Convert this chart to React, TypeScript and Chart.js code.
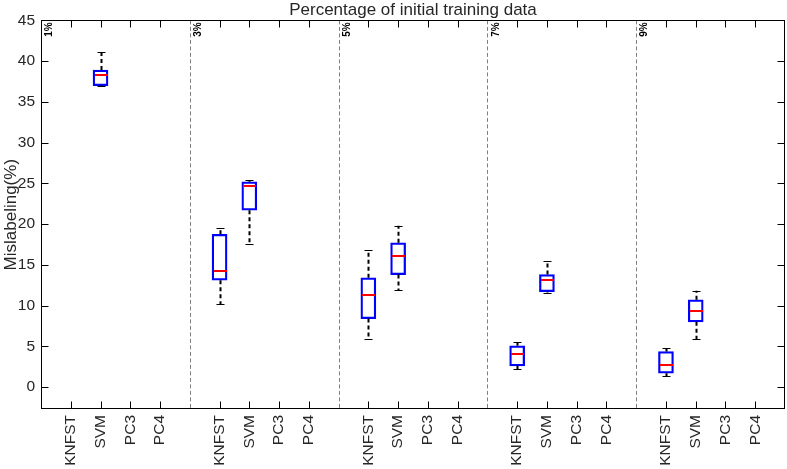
import React, { useEffect, useRef } from 'react';
import { Chart, registerables } from 'chart.js';
Chart.register(...registerables);

const groups = ['1%', '3%', '5%', '7%', '9%'];
const methods = ['KNFST', 'SVM', 'PC3', 'PC4'];
const yTicks = [0, 5, 10, 15, 20, 25, 30, 35, 40, 45];

// KNFST box statistics per group (null = no data)
const knfstMin = [null, 10.2, 5.9, 2.2, 1.3];
const knfstQ1 = [null, 13.1, 8.4, 2.6, 1.7];
const knfstMed = [null, 14.2, 11.3, 4.05, 2.75];
const knfstQ3 = [null, 18.75, 13.4, 5.05, 4.35];
const knfstMax = [null, 19.5, 16.8, 5.5, 4.8];

// SVM box statistics per group
const svmMin = [36.9, 17.6, 11.9, 11.6, 5.9];
const svmQ1 = [37.0, 21.7, 13.8, 11.7, 8.0];
const svmMed = [38.3, 24.7, 16.1, 13.1, 9.3];
const svmQ3 = [38.9, 25.2, 17.7, 13.8, 10.7];
const svmMax = [41.1, 25.4, 19.8, 15.5, 11.8];

const FONT = "'Liberation Sans', Arial, Helvetica, sans-serif";
const TEXT = '#262626';

type Stat = { x: number; min: number; q1: number; med: number; q3: number; max: number };

function buildStats(mi: number, mn: (number | null)[], q1: (number | null)[], md: (number | null)[], q3: (number | null)[], mx: (number | null)[]): Stat[] {
  const out: Stat[] = [];
  groups.forEach((_, gi) => {
    if (q1[gi] == null) return;
    out.push({ x: gi * 5 + mi + 1, min: mn[gi] as number, q1: q1[gi] as number, med: md[gi] as number, q3: q3[gi] as number, max: mx[gi] as number });
  });
  return out;
}

export default function App() {
  const ref = useRef<HTMLCanvasElement>(null);
  useEffect(() => {
    document.body.style.margin = '0';
    const canvas = ref.current;
    if (!canvas) return;

    const knfst = buildStats(0, knfstMin, knfstQ1, knfstMed, knfstQ3, knfstMax);
    const svm = buildStats(1, svmMin, svmQ1, svmMed, svmQ3, svmMax);
    const allStats = [...knfst, ...svm];

    const xPositions: number[] = [];
    const xLabelMap: Record<number, string> = {};
    groups.forEach((_, gi) => {
      methods.forEach((m, mi) => {
        const p = gi * 5 + mi + 1;
        xPositions.push(p);
        xLabelMap[p] = m;
      });
    });
    const separators = groups.map((_, gi) => gi * 5);

    const BOX_W = 15;

    const decor = {
      id: 'boxDecor',
      beforeDatasetsDraw(chart: any) {
        const { ctx, chartArea: a, scales } = chart;
        const xs = scales.x;
        ctx.save();
        ctx.strokeStyle = '#808080';
        ctx.lineWidth = 1;
        ctx.setLineDash([4, 2.5]);
        separators.forEach((s) => {
          if (s === 0) return;
          const px = Math.round(xs.getPixelForValue(s)) + 0.5;
          ctx.beginPath();
          ctx.moveTo(px, a.top);
          ctx.lineTo(px, a.bottom);
          ctx.stroke();
        });
        ctx.setLineDash([]);
        ctx.fillStyle = '#000';
        ctx.font = `bold 10px ${FONT}`;
        ctx.textAlign = 'right';
        ctx.textBaseline = 'middle';
        separators.forEach((s, gi) => {
          const px = xs.getPixelForValue(s) + 8.5;
          ctx.save();
          ctx.translate(px, a.top + 2);
          ctx.rotate(-Math.PI / 2);
          ctx.fillText(groups[gi], 0, 0);
          ctx.restore();
        });
        ctx.restore();
      },
      afterDatasetsDraw(chart: any) {
        const { ctx, chartArea: a, scales } = chart;
        const xs = scales.x;
        const ys = scales.y;
        ctx.save();
        allStats.forEach((s) => {
          const cx = Math.round(xs.getPixelForValue(s.x)) + 0.5;
          const yMin = ys.getPixelForValue(s.min);
          const yQ1 = ys.getPixelForValue(s.q1);
          const yMed = ys.getPixelForValue(s.med);
          const yQ3 = ys.getPixelForValue(s.q3);
          const yMax = ys.getPixelForValue(s.max);
          ctx.strokeStyle = '#000';
          ctx.lineWidth = 2;
          ctx.setLineDash([4, 3]);
          ctx.beginPath();
          ctx.moveTo(cx, yQ3);
          ctx.lineTo(cx, yMax);
          ctx.moveTo(cx, yQ1);
          ctx.lineTo(cx, yMin);
          ctx.stroke();
          ctx.setLineDash([]);
          ctx.lineWidth = 1;
          ctx.strokeStyle = '#000';
          ctx.beginPath();
          ctx.moveTo(cx - 4, Math.round(yMax) + 0.5);
          ctx.lineTo(cx + 4, Math.round(yMax) + 0.5);
          ctx.moveTo(cx - 4, Math.round(yMin) + 0.5);
          ctx.lineTo(cx + 4, Math.round(yMin) + 0.5);
          ctx.stroke();
          ctx.strokeStyle = '#ff0000';
          ctx.lineWidth = 2;
          ctx.beginPath();
          ctx.moveTo(cx - BOX_W / 2 + 1, Math.round(yMed));
          ctx.lineTo(cx + BOX_W / 2 - 1, Math.round(yMed));
          ctx.stroke();
        });
        ctx.strokeStyle = '#000';
        ctx.lineWidth = 1;
        const L = Math.round(a.left) + 0.5;
        const R = Math.round(a.right) - 0.5;
        const T = Math.round(a.top) + 0.5;
        const B = Math.round(a.bottom) - 0.5;
        ctx.strokeRect(L, T, R - L, B - T);
        const TL = 7;
        ctx.beginPath();
        yTicks.forEach((v) => {
          const py = Math.round(ys.getPixelForValue(v)) + 0.5;
          ctx.moveTo(L, py);
          ctx.lineTo(L + TL, py);
          ctx.moveTo(R, py);
          ctx.lineTo(R - TL, py);
        });
        xPositions.forEach((v) => {
          const px = Math.round(xs.getPixelForValue(v)) + 0.5;
          ctx.moveTo(px, B);
          ctx.lineTo(px, B - TL);
          ctx.moveTo(px, T);
          ctx.lineTo(px, T + TL);
        });
        ctx.stroke();
        ctx.restore();
      },
    };

    const mkData = (arr: Stat[]) => arr.map((s) => ({ x: s.x, y: [s.q1, s.q3] }));
    const boxStyle = {
      backgroundColor: 'rgba(0,0,0,0)',
      borderColor: '#0000ff',
      borderWidth: 1.6,
      borderSkipped: false,
      barThickness: BOX_W,
      grouped: false,
    };

    const chart = new Chart(canvas, {
      type: 'bar',
      data: {
        datasets: [
          { label: 'KNFST', data: mkData(knfst) as any, ...boxStyle } as any,
          { label: 'SVM', data: mkData(svm) as any, ...boxStyle } as any,
        ],
      },
      options: {
        animation: false,
        responsive: false,
        devicePixelRatio: 1,
        layout: { padding: { left: 0, right: 2, top: 0, bottom: 0 } },
        plugins: {
          legend: { display: false },
          tooltip: { enabled: false },
          title: {
            display: true,
            fullSize: false,
            text: 'Percentage of initial training data',
            color: TEXT,
            font: { family: FONT, size: 17, weight: 'normal' },
            padding: { top: 0, bottom: 0 },
          },
        },
        scales: {
          x: {
            type: 'linear',
            min: 0,
            max: 25,
            offset: false,
            grid: { display: false, drawTicks: false },
            border: { display: false },
            afterBuildTicks: (scale: any) => {
              scale.ticks = xPositions.map((v) => ({ value: v }));
            },
            afterFit: (scale: any) => {
              scale.height = 60;
            },
            ticks: {
              autoSkip: false,
              minRotation: 90,
              maxRotation: 90,
              padding: 6,
              color: TEXT,
              font: { family: FONT, size: 15.5 },
              callback: (value: any) => xLabelMap[value as number] ?? '',
            },
          },
          y: {
            type: 'linear',
            min: -2.7,
            max: 45,
            grid: { display: false, drawTicks: false },
            border: { display: false },
            afterBuildTicks: (scale: any) => {
              scale.ticks = yTicks.map((v) => ({ value: v }));
            },
            afterFit: (scale: any) => {
              scale.width = 41;
            },
            ticks: {
              padding: 6,
              color: TEXT,
              font: { family: FONT, size: 15.5 },
              callback: (value: any) => String(value),
            },
            title: {
              display: true,
              text: 'Mislabeling(%)',
              color: TEXT,
              font: { family: FONT, size: 17 },
              padding: { top: 1, bottom: 0 },
            },
          },
        },
      },
      plugins: [decor],
    });
    return () => chart.destroy();
  }, []);
  return (
    <div style={{ width: 787, height: 469 }}>
      <canvas ref={ref} width={787} height={469} style={{ display: 'block' }} />
    </div>
  );
}
